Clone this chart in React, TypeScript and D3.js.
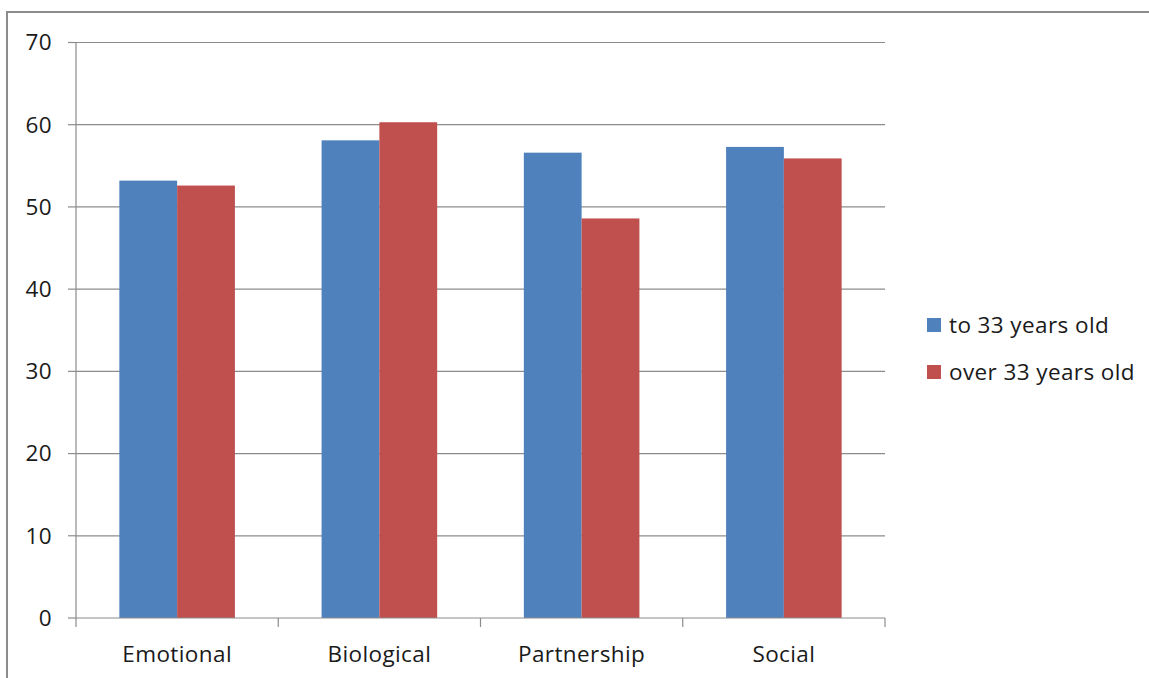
import React from "react";
import * as d3 from "d3";

const categories = ["Emotional", "Biological", "Partnership", "Social"];
const seriesNames = ["to 33 years old", "over 33 years old"];
const youngValues = [53.2, 58.1, 56.6, 57.3];
const olderValues = [52.6, 60.3, 48.6, 55.9];
const yTicks = [0, 10, 20, 30, 40, 50, 60, 70];
const colors = ["#4F81BD", "#C0504D"];

const W = 1149;
const H = 678;
const plot = { left: 76, right: 885, top: 42.5, bottom: 618 };
const FONT = "'Open Sans', Lato, sans-serif";
const FS = 22.5;
const LS = 0.4;

export default function App() {
  const x0 = d3.scaleBand<string>().domain(categories).range([plot.left, plot.right]).padding(0);
  const x1 = d3
    .scaleBand<string>()
    .domain(seriesNames)
    .range([0, x0.bandwidth()])
    .paddingInner(0)
    .paddingOuter(0.75);
  const y = d3.scaleLinear().domain([0, 70]).range([plot.bottom, plot.top]);
  const series = [youngValues, olderValues];
  const xTickPositions = [...categories.map((c) => x0(c)!), plot.right];

  return (
    <svg
      width={W}
      height={H}
      style={{ position: "absolute", left: 0, top: 0, background: "#fff" }}
    >
      <rect x={7} y={12} width={W + 10} height={H + 10} fill="#fff" stroke="#8c8c8c" strokeWidth={2} />
      {yTicks.map((t) => (
        <g key={t}>
          {t > 0 && (
            <line x1={plot.left} x2={plot.right} y1={y(t)} y2={y(t)} stroke="#8c8c8c" strokeWidth={1.2} />
          )}
          <line x1={plot.left - 8} x2={plot.left} y1={y(t)} y2={y(t)} stroke="#8c8c8c" strokeWidth={1.2} />
          <text x={52} y={y(t)} dy="0.35em" textAnchor="end" fontFamily={FONT} fontSize={FS} letterSpacing={LS} fill="#1a1a1a">
            {t}
          </text>
        </g>
      ))}
      {categories.map((c, i) =>
        seriesNames.map((s, j) => {
          const v = series[j][i];
          return (
            <rect
              key={c + s}
              x={x0(c)! + x1(s)!}
              y={y(v)}
              width={x1.bandwidth()}
              height={y(0) - y(v)}
              fill={colors[j]}
            />
          );
        })
      )}
      <line x1={plot.left} x2={plot.left} y1={plot.top} y2={plot.bottom} stroke="#8c8c8c" strokeWidth={1.2} />
      <line x1={plot.left} x2={plot.right} y1={plot.bottom} y2={plot.bottom} stroke="#8c8c8c" strokeWidth={1.2} />
      {xTickPositions.map((p, i) => (
        <line key={i} x1={p} x2={p} y1={plot.bottom} y2={plot.bottom + 9} stroke="#8c8c8c" strokeWidth={1.2} />
      ))}
      {categories.map((c) => (
        <text
          key={c}
          x={x0(c)! + x0.bandwidth() / 2}
          y={654}
          dy="0.35em"
          textAnchor="middle"
          fontFamily={FONT}
          fontSize={FS}
          letterSpacing={LS}
          fill="#1a1a1a"
        >
          {c}
        </text>
      ))}
      {seriesNames.map((s, j) => (
        <g key={s} transform={`translate(927, ${325 + j * 47})`}>
          <rect x={0} y={-7} width={14} height={14} fill={colors[j]} />
          <text x={22} y={0} dy="0.35em" fontFamily={FONT} fontSize={FS} letterSpacing={LS} fill="#1a1a1a">
            {s}
          </text>
        </g>
      ))}
    </svg>
  );
}
